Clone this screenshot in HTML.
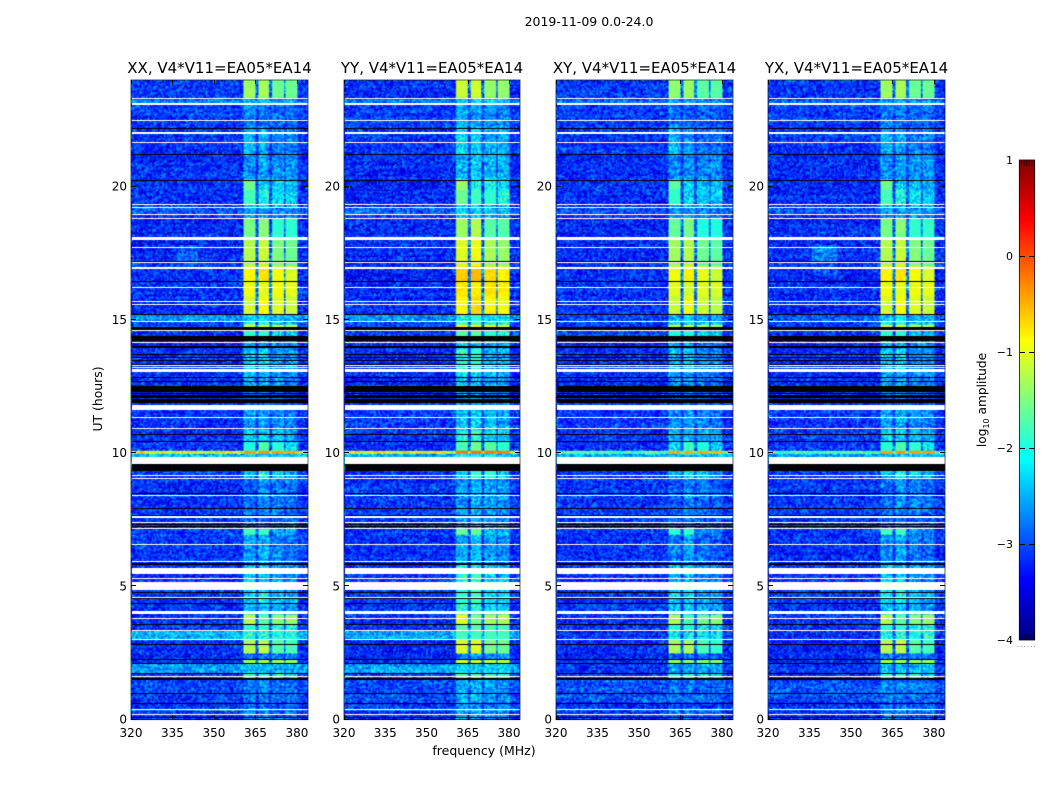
<!DOCTYPE html>
<html><head><meta charset="utf-8"><title>2019-11-09 spectrogram</title>
<style>
html,body{margin:0;padding:0;background:#fff;}
#stage{position:relative;width:1050px;height:800px;overflow:hidden;background:#fff;}
canvas{position:absolute;left:0;top:0;}
svg{position:absolute;left:0;top:0;}
text{font-family:"DejaVu Sans","Liberation Sans",sans-serif;fill:#000;}
</style></head>
<body>
<div id="stage">
<svg id="overlay" width="1050" height="800">
<text x="589" y="26" font-size="12.5" text-anchor="middle">2019-11-09 0.0-24.0</text>
<text x="484" y="755" font-size="12.5" text-anchor="middle">frequency (MHz)</text>
<text transform="translate(102,399) rotate(-90)" font-size="12.4" text-anchor="middle">UT (hours)</text>
<text transform="translate(986,400) rotate(-90)" font-size="12.2" text-anchor="middle">log<tspan font-size="8" dy="3">10</tspan><tspan dy="-3"> amplitude</tspan></text>
</svg>
</div>
<script>
// ---------- chart data ----------
const panelTitles = ["XX, V4*V11=EA05*EA14","YY, V4*V11=EA05*EA14","XY, V4*V11=EA05*EA14","YX, V4*V11=EA05*EA14"];
const panelIsParallel = [true,true,false,false];
const panelBandOffset = [0,0.2,-0.08,0];
const freqTicks = [320,335,350,365,380];
const hourTicks = [0,5,10,15,20];
const colorTicks = [1,0,-1,-2,-3,-4];
// Each segment starts at segmentTop and runs down to the next entry (hours UT)
const segmentTop = [24,23.35,23.27,23.1,22.2,21.2,20.3,19.9,19.35,19.2,18.95,18.8,18,17.2,17,16.45,15.9,15.2,14.95,14.82,14.6,14.2,13.9,13.03,12.3,11.86,11.63,10.9,10.45,10.1,9.95,9.33,9.06,8,7.66,7.17,6.95,5.8,4.86,4.34,3.96,3.53,3.33,3,2.5,2.26,2.11,1.73,1.52,0.7,0.39,0.31];
const bgParallel = [-3,-3,-2.6,-2.95,-3,-3.05,-3.05,-3.05,-3,-2.75,-3,-3.05,-3.05,-3,-3.05,-3.05,-3.05,-2.5,-2.9,-2.9,-3,-3.1,-3.05,-3.05,-3.1,-3,-3,-3,-3,-1,-2.3,-3,-3,-2.95,-3,-3,-3,-3,-3,-3,-3,-3,-2.35,-3.05,-3.1,-3,-2.4,-2.9,-2.9,-3,-2.3,-3];
const bgCross = [-3,-3,-2.7,-2.95,-3,-3.05,-3.05,-3.05,-3,-2.85,-3,-3.05,-3.05,-3,-3.05,-3.05,-3.05,-2.85,-3,-3,-3,-3.1,-3.05,-3.05,-3.1,-3,-3,-3,-3,-1.7,-2.4,-3,-3,-2.95,-3,-3,-3.05,-3,-3,-3,-3,-3,-3,-3.1,-3.1,-3,-3,-2.95,-2.85,-3,-2.7,-3];
const band1Levels = [-1.35,-2.6,-2.3,-2.55,-2.3,-2.5,-1.6,-1.8,-2.3,-2.4,-2.4,-1.55,-1.25,-1.25,-0.85,-0.95,-1.1,-2.2,-2,-1.05,-1.9,-2.4,-2.2,-2.4,-2.6,-2.7,-2.45,-2.2,-1.95,-0.4,-2.2,-2.3,-2.7,-2.65,-2.7,-1.8,-2.5,-2.2,-2.1,-2.2,-1.2,-1.9,-2,-1.25,-2.7,-1.3,-2.3,-1.9,-2.6,-2.7,-2,-2.6];
const band2Levels = [-1.3,-2.6,-2.3,-2.65,-2.4,-2.4,-2.2,-2,-2.3,-2.4,-2.4,-1.45,-1.15,-1.15,-0.75,-1,-0.9,-2.1,-2,-1.05,-1.9,-2.4,-2.1,-2.4,-2.6,-2.7,-2.4,-2.2,-1.75,-0.4,-2.2,-2,-2.5,-2.5,-2.6,-1.8,-2.4,-2.2,-2,-2.2,-1.7,-1.9,-2,-1.2,-2.7,-1.3,-2.3,-1.9,-2.55,-2.7,-2,-2.6];
const band3Levels = [-1.6,-2.7,-2.4,-2.7,-2.6,-2.5,-2.2,-2.1,-2.35,-2.5,-2.5,-1.9,-1.5,-1.5,-0.9,-0.95,-1.05,-2.3,-2.2,-1.15,-2.1,-2.5,-2.5,-2.5,-2.7,-2.8,-2.5,-2.3,-1.9,-0.4,-2.2,-2.1,-2.6,-2.6,-2.7,-2.4,-2.6,-2.4,-2.3,-2.3,-1.5,-2,-2,-1.7,-2.7,-1.35,-2.3,-2,-2.65,-2.8,-2.2,-2.7];
const band4Levels = [-1.6,-2.7,-2.4,-2.75,-2.6,-2.5,-2.3,-2.2,-2.4,-2.5,-2.5,-1.9,-1.6,-1.6,-1.05,-1,-1.15,-2.3,-2.2,-1.25,-2.2,-2.6,-2.5,-2.6,-2.8,-2.8,-2.6,-2.4,-2.1,-0.45,-2.3,-2.4,-2.7,-2.7,-2.75,-2.5,-2.7,-2.5,-2.4,-2.4,-1.4,-2,-2,-1.8,-2.7,-1.4,-2.35,-2.1,-2.7,-2.8,-2.3,-2.7];
const bandLevelSets = [band1Levels,band2Levels,band3Levels,band4Levels];
const bandStartMHz = [360.8,366,370.9,376];
const bandEndMHz = [364.8,369.9,375.2,380];
// Flagged rows, [upper hour, lower hour]
const whiteRows = [[23.34,23.27],[23.12,23.08],[22.5,22.45],[22.03,21.97],[21.66,21.62],[19.36,19.32],[19.22,19.18],[18.96,18.92],[18.81,18.77],[18.09,18.05],[18.02,17.98],[17.75,17.69],[17.16,17.12],[16.98,16.92],[16.22,16.18],[15.69,15.65],[15.59,15.55],[14.96,14.92],[14.6,14.57],[14.16,14.12],[13.31,13.27],[13.22,13.18],[13.17,13.03],[11.79,11.63],[11.35,11.31],[10.94,10.9],[9.85,9.58],[9.19,9.15],[9.08,9.04],[8.43,8.39],[7.63,7.57],[7.41,7.37],[7.19,7.15],[6.59,6.55],[5.94,5.9],[5.69,5.47],[5.31,5.27],[5.16,4.86],[4.61,4.57],[4.07,3.96],[3.81,3.77],[3.36,3.32],[3.02,2.98],[1.62,1.58],[0.41,0.37],[0.22,0.18]];
const blackRows = [[22.19,22.15],[21.21,21.17],[20.25,20.21],[17.22,17.18],[16.45,16.41],[15.23,15.18],[14.73,14.6],[14.39,14.2],[14,13.96],[13.72,13.68],[13.62,13.58],[13.5,13.46],[13.36,13.32],[12.85,12.81],[12.72,12.68],[12.5,12.29],[12.25,12.21],[12.16,12.12],[12.09,12.05],[12.04,11.86],[10.72,10.68],[10.47,10.43],[9.58,9.33],[8.5,8.46],[7.94,7.9],[7.68,7.64],[7.33,7.3],[7.26,7.23],[5.88,5.79],[4.8,4.76],[4.56,4.52],[4.36,4.32],[3.57,3.53],[2.85,2.81],[2.28,2.24],[2.13,2.09],[1.75,1.71],[1.54,1.5],[1,0.96],[0.61,0.57],[0.09,0.05]];
// Diffuse patches [panel, fLow, fHigh, tLow, tHigh, level]
const diffusePatches = [[0,337,344,17.1,17.8,-2.75],[3,336,345,17.1,17.8,-2.6],[3,336,345,16.7,17,-2.8],[0,340,360,0.31,0.39,-1.7]];
// Noise table for the channel speckle (log10 units)
const grainOffsets = [0.12,-0.21,0.05,0.31,-0.08,-0.27,0.17,0.02,-0.14,0.26,-0.04,0.09,-0.32,0.21,-0.11,0.03,0.35,-0.19,-0.02,0.14,-0.25,0.07,0.23,-0.16,0.01,-0.07,0.29,-0.29,0.11,-0.12,0.19,-0.03,-0.22,0.06,0.33,-0.17,0.08,-0.06,0.24,-0.26,0.15,-0.01,-0.13,0.28,-0.09,0.04,-0.3,0.18,0,-0.18,0.1,0.27,-0.23,-0.05,0.13,0.22,-0.15,0.03,-0.1,0.16,-0.28];

// ---------- axis functions ----------
const panelLeft = [131,344,556,768];
const panelWidth = [177,176,177,177];
const plotTop = 80, plotBottom = 719.5;
const FMIN = 320, FMAX = 384, HMIN = 0, HMAX = 24;
function xScale(p, f){ return panelLeft[p] + (f-FMIN)/(FMAX-FMIN)*panelWidth[p]; }
function yScale(h){ return plotBottom - (h-HMIN)/(HMAX-HMIN)*(plotBottom-plotTop); }
const cbTop = 160, cbBottom = 640, cbMin = -4, cbMax = 1;
function cbScale(v){ return cbBottom - (v-cbMin)/(cbMax-cbMin)*(cbBottom-cbTop); }
function jet(v){
  const c = x => Math.max(0,Math.min(1,x));
  const r = c(Math.min(4*v-1.5, -4*v+4.5));
  const g = c(Math.min(4*v-0.5, -4*v+3.5));
  const b = c(Math.min(4*v+0.5, -4*v+2.5));
  return [Math.round(r*255),Math.round(g*255),Math.round(b*255)];
}
function levelToColor(l){ return jet((l-cbMin)/(cbMax-cbMin)); }
function segmentIndex(h){
  for(let s=segmentTop.length-1;s>=0;s--){ if(h<=segmentTop[s] && (s===segmentTop.length-1 ? h>=0 : h>segmentTop[s+1])) return s; }
  return segmentTop.length-1;
}
function cellLevel(p,f,h,i,j){
  const s = segmentIndex(h);
  const bg = panelIsParallel[p] ? bgParallel[s] : bgCross[s];
  let base = bg, grainAmp = 1.7;
  if(f>=bandStartMHz[0] && f<=bandEndMHz[3]){
    let inBand=-1;
    for(let b=0;b<4;b++){ if(f>=bandStartMHz[b] && f<=bandEndMHz[b]) inBand=b; }
    if(inBand>=0){
      base = Math.max(bg, bandLevelSets[inBand][s] + panelBandOffset[p]);
      grainAmp = base>-2 ? 0.35 : 1.6;
    } else {
      let avg = 0;
      for(let b=0;b<4;b++) avg += bandLevelSets[b][s];
      avg = avg/4 + panelBandOffset[p];
      base = bg + (avg-bg)*0.2;
    }
  }
  for(const q of diffusePatches){
    if(q[0]===p && f>=q[1] && f<=q[2] && h>=q[3] && h<=q[4]) base = Math.max(base,q[5]);
  }
  if(base < -2) base -= 0.16;
  const k = (((i*73856093) ^ (j*19349663) ^ (p*83492791)) >>> 0) % grainOffsets.length;
  const r = (j*j*7 + j*3 + p) % grainOffsets.length;
  return base + grainOffsets[k]*grainAmp + (base < -2 ? grainOffsets[r]*0.3 : 0);
}

// ---------- draw ----------
const stage = document.getElementById('stage');
const overlay = document.getElementById('overlay');
const NS = 'http://www.w3.org/2000/svg';
const nCols = 118, nRows = 426;

function drawPanel(p){
  const cv = document.createElement('canvas');
  
  
  cv.width = 1050; cv.height = 800;
  stage.insertBefore(cv, overlay);
  const ctx = cv.getContext('2d');
  const off = document.createElement('canvas');
  off.width = nCols; off.height = nRows;
  const octx = off.getContext('2d');
  const im = octx.createImageData(nCols,nRows);
  for(let j=0;j<nRows;j++){
    const h = HMAX - (j+0.5)/nRows*(HMAX-HMIN);
    for(let i=0;i<nCols;i++){
      const f = FMIN + (i+0.5)/nCols*(FMAX-FMIN);
      const col = levelToColor(cellLevel(p,f,h,i,j));
      const a = (j*nCols+i)*4;
      im.data[a]=col[0]; im.data[a+1]=col[1]; im.data[a+2]=col[2]; im.data[a+3]=255;
    }
  }
  octx.putImageData(im,0,0);
  ctx.imageSmoothingEnabled = true;
  const x0 = xScale(p,FMIN), x1 = xScale(p,FMAX), y0 = yScale(HMAX), y1 = yScale(HMIN);
  ctx.drawImage(off, x0, y0, x1-x0, y1-y0);
  function rows(list,color){
    ctx.fillStyle = color;
    for(const r of list){
      const a = Math.round(yScale(r[0]));
      const b = Math.max(a+1, Math.round(yScale(r[1])));
      ctx.fillRect(x0+1, a, x1-x0-1, b-a);
    }
  }
  rows(whiteRows,'#fff');
  rows(blackRows,'#000');
}

function svgEl(tag){ return document.createElementNS(NS,tag); }

function drawAxes(p){
  const g = svgEl('g');
  
  
  overlay.appendChild(g);
  const x0 = xScale(p,FMIN), x1 = xScale(p,FMAX), y0 = yScale(HMAX), y1 = yScale(HMIN);

  const title = svgEl('text');
  
  
  title.setAttribute('x', (x0+x1)/2);
  title.setAttribute('y', 73);
  title.setAttribute('font-size', '15');
  title.setAttribute('text-anchor', 'middle');
  title.textContent = panelTitles[p];
  g.appendChild(title);

  const frame = svgEl('rect');
  
  
  frame.setAttribute('x', x0);
  frame.setAttribute('y', y0);
  frame.setAttribute('width', x1-x0);
  frame.setAttribute('height', y1-y0);
  frame.setAttribute('fill', 'none');
  frame.setAttribute('stroke', '#000');
  frame.setAttribute('stroke-opacity', '0.62');
  frame.setAttribute('stroke-width', '1');
  g.appendChild(frame);

  for(const f of freqTicks){
    const x = Math.round(xScale(p,f))+0.5;
    for(const seg of [[y1,y1-4],[y0,y0+4]]){
      const t = svgEl('line');
      
      
      t.setAttribute('x1', x); t.setAttribute('x2', x);
      t.setAttribute('y1', seg[0]); t.setAttribute('y2', seg[1]);
      t.setAttribute('stroke', '#000');
      g.appendChild(t);
    }
    const lab = svgEl('text');
    
    
    lab.setAttribute('x', xScale(p,f));
    lab.setAttribute('y', 737);
    lab.setAttribute('font-size', '12');
    lab.setAttribute('text-anchor', 'middle');
    lab.textContent = f;
    g.appendChild(lab);
  }
  for(const h of hourTicks){
    const y = Math.round(yScale(h))-0.5;
    for(const seg of [[x0,x0+5],[x1,x1-5]]){
      const t = svgEl('line');
      
      
      t.setAttribute('x1', seg[0]); t.setAttribute('x2', seg[1]);
      t.setAttribute('y1', y); t.setAttribute('y2', y);
      t.setAttribute('stroke', '#000');
      g.appendChild(t);
    }
    const lab = svgEl('text');
    
    
    lab.setAttribute('x', x0-4);
    lab.setAttribute('y', yScale(h)+4);
    lab.setAttribute('font-size', '12');
    lab.setAttribute('text-anchor', 'end');
    lab.textContent = h;
    g.appendChild(lab);
  }
}

function drawColorbar(){
  const cv = document.createElement('canvas');
  
  
  cv.width = 1050; cv.height = 800;
  stage.insertBefore(cv, overlay);
  const ctx = cv.getContext('2d');
  for(let y=cbTop;y<cbBottom;y++){
    const v = cbMax - (y+0.5-cbTop)/(cbBottom-cbTop)*(cbMax-cbMin);
    const c = levelToColor(v);
    ctx.fillStyle = 'rgb('+c[0]+','+c[1]+','+c[2]+')';
    ctx.fillRect(1019,y,16,1);
  }
  const g = svgEl('g');
  
  
  overlay.appendChild(g);

  const frame = svgEl('rect');
  
  
  frame.setAttribute('x', 1019.5);
  frame.setAttribute('y', cbTop);
  frame.setAttribute('width', 15);
  frame.setAttribute('height', cbBottom-cbTop);
  frame.setAttribute('fill', 'none');
  frame.setAttribute('stroke', '#000');
  frame.setAttribute('stroke-opacity', '0.75');
  g.appendChild(frame);

  for(const v of colorTicks){
    const y = Math.round(cbScale(v))+0.5;
    const lab = svgEl('text');
    
    
    lab.setAttribute('x', 1013);
    lab.setAttribute('y', cbScale(v)+4);
    lab.setAttribute('font-size', '11');
    lab.setAttribute('text-anchor', 'end');
    lab.textContent = String(v).replace('-', '\u2212');
    g.appendChild(lab);
    if(v===cbMax || v===cbMin) continue;
    for(const seg of [[1020,1025],[1029,1034]]){
      const t = svgEl('line');
      
      
      t.setAttribute('x1', seg[0]); t.setAttribute('x2', seg[1]);
      t.setAttribute('y1', y); t.setAttribute('y2', y);
      t.setAttribute('stroke', '#000');
      g.appendChild(t);
    }
  }
  for(let i=0;i<6;i++){
    const x = 1021.5 + i*2.6;
    for(const seg of [[cbTop,cbTop+6],[cbBottom-6,cbBottom]]){
      const t = svgEl('line');
      
      
      t.setAttribute('x1', x); t.setAttribute('x2', x);
      t.setAttribute('y1', seg[0]); t.setAttribute('y2', seg[1]);
      t.setAttribute('stroke', '#000');
      t.setAttribute('stroke-opacity', '0.7');
      g.appendChild(t);
    }
    const d = svgEl('rect');
    
    
    d.setAttribute('x', 1017.5 + i*3.3);
    d.setAttribute('y', 646);
    d.setAttribute('width', 1);
    d.setAttribute('height', 1);
    d.setAttribute('fill', '#999');
    g.appendChild(d);
  }
}

for(let p=0;p<4;p++){ drawPanel(p); drawAxes(p); }
drawColorbar();
</script>
</body></html>
